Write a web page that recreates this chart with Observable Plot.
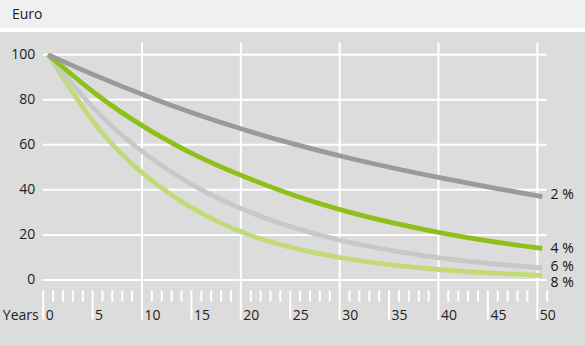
<!DOCTYPE html>
<html><head><meta charset="utf-8">
<script src="https://cdn.jsdelivr.net/npm/d3@7"></script>
<script src="https://cdn.jsdelivr.net/npm/@observablehq/plot@0.6"></script>
<style>
body{margin:0;background:#fff;font-family:"Open Sans",sans-serif;}
#title{height:28px;line-height:28px;background:#f0f0f0;padding-left:12px;font-size:14px;color:#222;}
#chart{margin-top:4px;line-height:0;}
</style></head><body>
<div id="title">Euro</div>
<div id="chart"></div>
<script>
const years = [0, 5, 10, 15, 20, 25, 30, 35, 40, 45, 50];
const rate2 = [100, 90.4, 81.6, 73.6, 66.5, 60.2, 54.6, 49.6, 45.1, 40.9, 37.0];
const rate4 = [100, 82.0, 67.2, 55.2, 45.6, 37.4, 30.7, 25.2, 20.7, 17.0, 14.0];
const rate6 = [100, 74.4, 55.4, 41.2, 30.8, 23.0, 17.2, 12.9, 9.6, 7.2, 5.3];
const rate8 = [100, 67.8, 45.8, 30.9, 20.6, 14.0, 9.6, 6.6, 4.5, 3.0, 2.0];
const seriesNames = ["2 %", "4 %", "6 %", "8 %"];
const seriesColors = ["#9a9a9a", "#8dc01a", "#c8c8c8", "#c2db78"];
const yTicks = [0, 20, 40, 60, 80, 100];
const xTickLabels = [0, 5, 10, 15, 20, 25, 30, 35, 40, 45, 50];
const xAxisTitle = "Years";
const gridX = [10, 20, 30, 40, 50];
const majorTicks = [0, 5, 15, 25, 35, 45];
const minorTicks = d3.range(1, 52).filter(d => d % 5 !== 0);

const values = [rate2, rate4, rate6, rate8];
// draw order: 8 %, 6 %, 4 %, 2 % (2 % on top)
const rows = [3, 2, 1, 0].flatMap(j => years.map((yr, i) => ({year: yr, value: values[j][i], series: seriesNames[j]})));
const lastVal = j => ({value: values[j][values[j].length - 1], year: years[years.length - 1], series: seriesNames[j]});

const ymin = -18, ymax = 105.3;
const chart = Plot.plot({
  width: 585, height: 313,
  marginLeft: 42.7, marginRight: 38.3, marginTop: 10.3, marginBottom: 25,
  style: {background: "#dcdcdc", fontFamily: "'Open Sans', sans-serif", fontSize: "14px", color: "#222"},
  x: {domain: [0, 51], axis: null},
  y: {domain: [ymin, ymax], axis: null},
  color: {domain: seriesNames, range: seriesColors},
  marks: [
    Plot.ruleY(yTicks, {x1: 0, x2: 51, stroke: "white", strokeWidth: 2}),
    Plot.ruleX(gridX, {y1: ymin, y2: ymax, stroke: "white", strokeWidth: 2}),
    Plot.ruleX(majorTicks, {y1: -4.76, y2: -17.8, stroke: "white", strokeWidth: 2}),
    Plot.ruleX(minorTicks, {y1: -4.76, y2: -9.96, stroke: "white", strokeWidth: 2}),
    Plot.text(yTicks, {x: 0, y: d => d, text: d => String(d), textAnchor: "end", dx: -8, fill: "#222"}),
    Plot.text(xTickLabels, {x: d => d, y: -15.6, text: d => String(d), textAnchor: "start", dx: 2.5, fill: "#222"}),
    Plot.text([xAxisTitle], {x: 0, y: -15.6, text: d => d, textAnchor: "end", dx: -4.5, fill: "#222"}),
    Plot.line(rows, {x: "year", y: "value", z: "series", stroke: "series", curve: "natural", strokeWidth: 4.8, dx: 5, strokeLinecap: "butt"}),
    Plot.text([lastVal(0)], {x: "year", y: "value", text: "series", textAnchor: "start", dx: 13.3, dy: -2.5, fill: "#111"}),
    Plot.text([lastVal(1)], {x: "year", y: "value", text: "series", textAnchor: "start", dx: 13.3, dy: 0.5, fill: "#111"}),
    Plot.text([lastVal(2)], {x: "year", y: "value", text: "series", textAnchor: "start", dx: 13.3, dy: -1.2, fill: "#111"}),
    Plot.text([lastVal(3)], {x: "year", y: "value", text: "series", textAnchor: "start", dx: 13.3, dy: 7.5, fill: "#111"})
  ]
});
document.getElementById("chart").appendChild(chart);
</script>
</body></html>
